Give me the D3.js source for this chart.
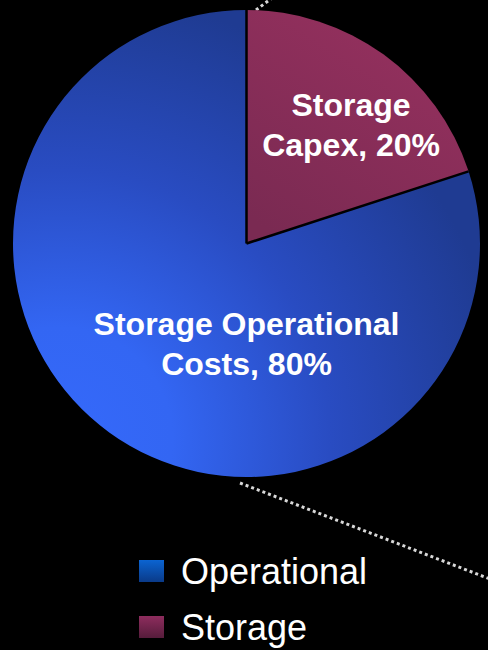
<!DOCTYPE html>
<html>
<head>
<meta charset="utf-8">
<script src="https://cdn.jsdelivr.net/npm/d3@7"></script>
<style>
  html, body { margin: 0; padding: 0; background: #000; }
  svg { display: block; }
</style>
</head>
<body>
<svg id="chart" width="488" height="650"></svg>
<script>
// ---- data ----
const categories = ["Storage Capex", "Storage Operational Costs"];
const values = [20, 80];
const sliceLabels = [["Storage", "Capex, 20%"], ["Storage Operational", "Costs, 80%"]];
const legendLabels = ["Operational", "Storage"];

const W = 488, H = 650;
const cx = 246.5, cy = 243.5, R = 233.5;
const svg = d3.select("#chart");
svg.append("rect").attr("width", W).attr("height", H).attr("fill", "#000");

const defs = svg.append("defs");
// gradient coordinates are in the pie group's space (origin = pie centre)
const gBlue = defs.append("radialGradient").attr("id", "gBlue")
  .attr("gradientUnits", "userSpaceOnUse")
  .attr("cx", 60 - cx).attr("cy", 440 - cy).attr("r", 450);
gBlue.append("stop").attr("offset", 0).attr("stop-color", "#3569fb");
gBlue.append("stop").attr("offset", 0.25).attr("stop-color", "#3366f3");
gBlue.append("stop").attr("offset", 0.6).attr("stop-color", "#294cc2");
gBlue.append("stop").attr("offset", 1).attr("stop-color", "#1f3b92");

const gMar = defs.append("linearGradient").attr("id", "gMar")
  .attr("x1", 0.8).attr("y1", 0).attr("x2", 0.2).attr("y2", 1);
gMar.append("stop").attr("offset", 0).attr("stop-color", "#97315f");
gMar.append("stop").attr("offset", 1).attr("stop-color", "#7a2a52");

const lgBlue = defs.append("linearGradient").attr("id", "lgBlue")
  .attr("x1", 0).attr("y1", 0).attr("x2", 0).attr("y2", 1);
lgBlue.append("stop").attr("offset", 0).attr("stop-color", "#0b64d2");
lgBlue.append("stop").attr("offset", 1).attr("stop-color", "#0a3a88");
const lgMar = defs.append("linearGradient").attr("id", "lgMar")
  .attr("x1", 0).attr("y1", 0).attr("x2", 0).attr("y2", 1);
lgMar.append("stop").attr("offset", 0).attr("stop-color", "#8e2d5e");
lgMar.append("stop").attr("offset", 1).attr("stop-color", "#561c3b");

const fills = ["url(#gMar)", "url(#gBlue)"];

// connector dotted lines (to a secondary chart outside the frame)
const dotStyle = sel => sel.attr("stroke", "#d8d8d8").attr("stroke-width", 3)
  .attr("stroke-dasharray", "3,3").attr("fill", "none");
svg.append("line").attr("x1", 240).attr("y1", 483).attr("x2", 490).attr("y2", 579).call(dotStyle);
svg.append("line").attr("x1", 256).attr("y1", 10).attr("x2", 272).attr("y2", -2).call(dotStyle);

const pie = d3.pie().sort(null).value(d => d)(values);
const arc = d3.arc().innerRadius(0).outerRadius(R);

const g = svg.append("g").attr("transform", `translate(${cx},${cy})`);
g.selectAll("path.slice").data(pie).enter().append("path")
  .attr("class", "slice")
  .attr("d", arc)
  .attr("fill", (d, i) => fills[i]);

// separator radii
pie.forEach(d => {
  const a = d.startAngle;
  g.append("line").attr("x1", 0).attr("y1", 0)
    .attr("x2", R * Math.sin(a)).attr("y2", -R * Math.cos(a))
    .attr("stroke", "#000").attr("stroke-width", 2.5);
});

// slice labels
const labelArc = d3.arc().innerRadius(R * 0.66).outerRadius(R * 0.66);
const labelPos = [
  (() => { const c = labelArc.centroid(pie[0]); return [c[0] + 14, c[1] + 6]; })(),
  [0, 100]
];
const lineH = 40;
pie.forEach((d, i) => {
  const t = g.append("text")
    .attr("text-anchor", "middle")
    .attr("font-family", "'Liberation Sans', Arial, sans-serif")
    .attr("font-weight", "bold")
    .attr("font-size", 32)
    .attr("fill", "#fff");
  const lines = sliceLabels[i];
  lines.forEach((ln, j) => {
    t.append("tspan").attr("x", labelPos[i][0])
      .attr("y", labelPos[i][1] + (j - (lines.length - 1) / 2) * lineH + 11)
      .text(ln);
  });
});

// legend
const legendFills = ["url(#lgBlue)", "url(#lgMar)"];
const leg = svg.append("g").attr("transform", "translate(139,560)");
legendLabels.forEach((lab, i) => {
  const row = leg.append("g").attr("transform", `translate(0,${i * 56})`);
  row.append("rect").attr("width", 25).attr("height", 22).attr("fill", legendFills[i]);
  row.append("text").attr("x", 42).attr("y", 24)
    .attr("font-family", "'Liberation Sans', Arial, sans-serif")
    .attr("font-size", 36).attr("fill", "#fff").text(lab);
});
</script>
</body>
</html>
